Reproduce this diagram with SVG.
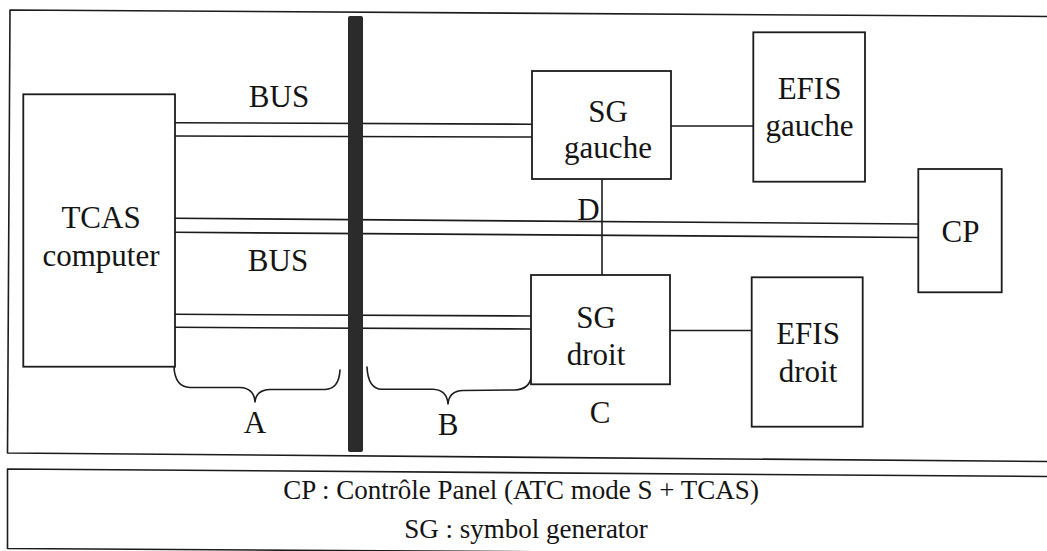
<svg xmlns="http://www.w3.org/2000/svg" width="1047" height="551" viewBox="0 0 1047 551">
<style>
.ln{fill:none;stroke:#1c1c1c;stroke-width:1.6;stroke-linecap:round;stroke-linejoin:round}
.box{fill:#fff;stroke:#1c1c1c;stroke-width:1.8}
.t{font-size:31px;fill:#141414;text-anchor:middle}
.cap{font-size:27px;fill:#141414;text-anchor:middle}
</style>
<rect width="1047" height="551" fill="#fff"/>
<g id="frame">
<path class="ln" d="M1047,16.5 L10,10 L7.5,453 L1047,461.5"/>
<path class="ln" d="M1047,476.5 L7.5,469 L7.5,548.5 L1047,555"/>
</g>
<g id="connectors">
<line class="ln" x1="175" y1="122.7" x2="532" y2="124.2"/>
<line class="ln" x1="175" y1="136" x2="532" y2="137"/>
<line class="ln" x1="175" y1="218.3" x2="918" y2="224"/>
<line class="ln" x1="175" y1="232.3" x2="918" y2="237.5"/>
<line class="ln" x1="175" y1="314.3" x2="531" y2="316"/>
<line class="ln" x1="175" y1="327.3" x2="531" y2="329"/>
<line class="ln" x1="671" y1="126" x2="753" y2="126"/>
<line class="ln" x1="670" y1="330.5" x2="752" y2="330.5"/>
<line class="ln" x1="602" y1="179" x2="602" y2="275"/>
<path id="braceA" class="ln" d="M174,367 Q175,387 190,387.5 L240,387.5 Q254,388 255,402 Q256,390 270,389.5 L325,389.5 Q339,389 340,370"/>
<path id="braceB" class="ln" d="M367,367 Q368,389 382,389.3 L433,389.3 Q447,390 448,404 Q449,391 463,390.5 L515,390 Q529,389 531,378"/>
</g>
<rect id="bar" x="348" y="16" width="15" height="436" rx="2" fill="#2b2b2b"/>
<g font-family="'Liberation Serif', 'DejaVu Serif', 'Times New Roman', serif">
<g id="tcas">
<rect class="box" x="23.3" y="94.3" width="151.7" height="272.4"/>
<text class="t" x="101" y="228">TCAS</text>
<text class="t" x="101" y="266">computer</text>
</g>
<g id="sg-gauche">
<rect class="box" x="532" y="71" width="139" height="108"/>
<text class="t" x="608" y="122">SG</text>
<text class="t" x="608" y="158">gauche</text>
</g>
<g id="sg-droit">
<rect class="box" x="531" y="275" width="139" height="109.3"/>
<text class="t" x="596" y="328">SG</text>
<text class="t" x="596" y="365">droit</text>
</g>
<g id="efis-gauche">
<rect class="box" x="753.3" y="32.3" width="111.7" height="149.4"/>
<text class="t" x="809.5" y="99">EFIS</text>
<text class="t" x="809.5" y="136">gauche</text>
</g>
<g id="efis-droit">
<rect class="box" x="751.7" y="277.3" width="111" height="149.4"/>
<text class="t" x="808" y="344">EFIS</text>
<text class="t" x="808" y="382">droit</text>
</g>
<g id="cp">
<rect class="box" x="918.3" y="169" width="83.4" height="123.3"/>
<text class="t" x="960.5" y="242">CP</text>
</g>
<g id="labels">
<text class="t" x="279" y="107">BUS</text>
<text class="t" x="278" y="271">BUS</text>
<text class="t" x="588.5" y="220">D</text>
<text class="t" x="255" y="433">A</text>
<text class="t" x="448" y="435">B</text>
<text class="t" x="600" y="423">C</text>
</g>
<g id="caption">
<text class="cap" x="521" y="499">CP : Contrôle Panel (ATC mode S + TCAS)</text>
<text class="cap" x="526" y="538">SG : symbol generator</text>
</g>
</g>
</svg>
